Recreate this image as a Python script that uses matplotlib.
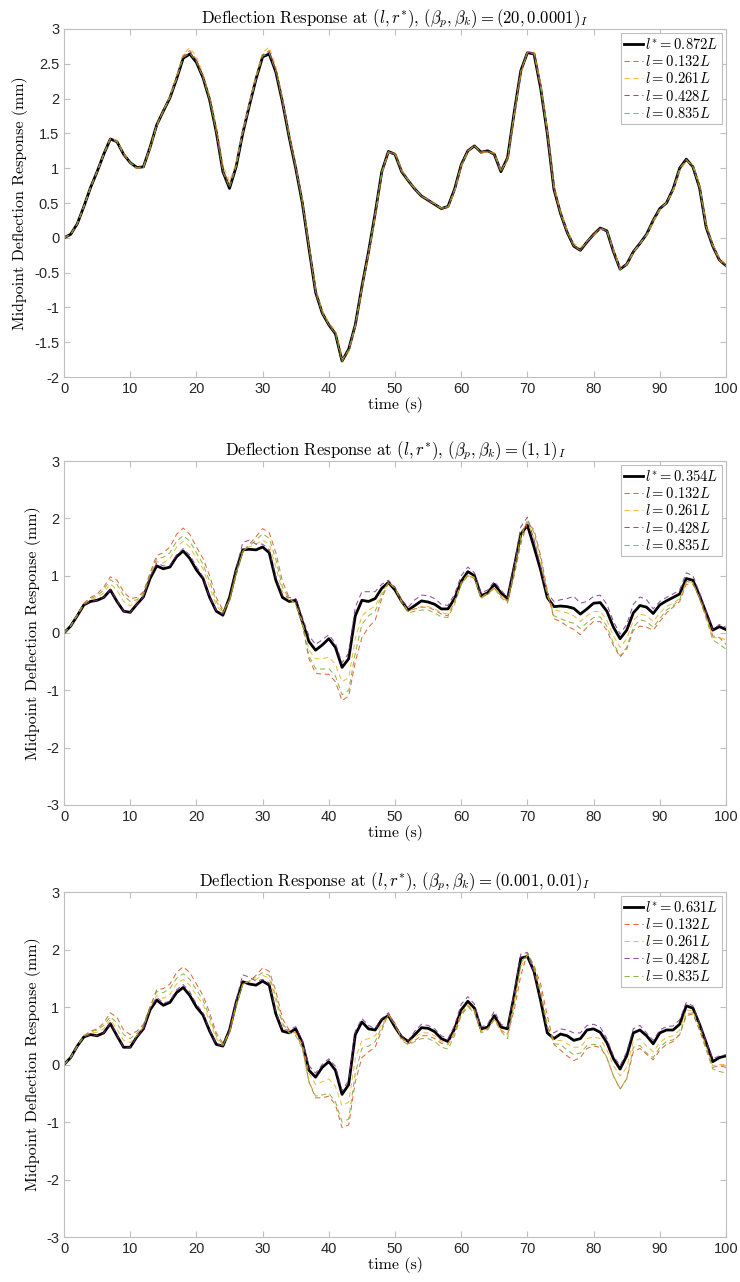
import numpy as np
import matplotlib
matplotlib.use("Agg")
import matplotlib.pyplot as plt

plt.rcParams["mathtext.fontset"] = "cm"
plt.rcParams["axes.unicode_minus"] = False

t = np.arange(0, 101)  # time (s), 1 s steps

# optimal sensor location per case, and the fixed comparison locations
l_star = [0.872, 0.354, 0.631]
l_cmp = [0.132, 0.261, 0.428, 0.835]
betas = ["(20, 0.0001)", "(1, 1)", "(0.001, 0.01)"]

# case 1: (beta_p, beta_k) = (20, 0.0001)
p1_star = [0, 0.05, 0.2, 0.45, 0.72, 0.95, 1.2, 1.42, 1.38, 1.2,
           1.08, 1.01, 1.02, 1.3, 1.62, 1.82, 2.01, 2.28, 2.58, 2.64,
           2.52, 2.3, 1.98, 1.52, 0.95, 0.71, 1.02, 1.5, 1.9, 2.28,
           2.6, 2.64, 2.38, 1.95, 1.45, 1.0, 0.5, -0.15, -0.78, -1.08,
           -1.25, -1.38, -1.77, -1.6, -1.25, -0.7, -0.2, 0.35, 0.95, 1.24,
           1.2, 0.95, 0.82, 0.7, 0.6, 0.54, 0.48, 0.42, 0.45, 0.7,
           1.05, 1.25, 1.32, 1.23, 1.25, 1.2, 0.95, 1.15, 1.8, 2.4,
           2.66, 2.64, 2.15, 1.5, 0.7, 0.35, 0.08, -0.12, -0.18, -0.06,
           0.05, 0.14, 0.1, -0.2, -0.45, -0.38, -0.2, -0.08, 0.05, 0.25,
           0.42, 0.5, 0.7, 1.0, 1.13, 1.02, 0.72, 0.15, -0.12, -0.32,
           -0.4]
p1_l132 = [0, 0.05, 0.2, 0.45, 0.72, 0.95, 1.2, 1.42, 1.38, 1.2,
           1.08, 1.0, 1.02, 1.3, 1.62, 1.82, 2.02, 2.3, 2.62, 2.69,
           2.56, 2.32, 2.0, 1.55, 0.98, 0.76, 1.04, 1.52, 1.92, 2.3,
           2.63, 2.69, 2.42, 1.98, 1.48, 1.02, 0.52, -0.13, -0.76, -1.07,
           -1.24, -1.36, -1.76, -1.62, -1.26, -0.72, -0.22, 0.33, 0.94, 1.24,
           1.21, 0.96, 0.82, 0.7, 0.6, 0.54, 0.48, 0.42, 0.44, 0.68,
           1.04, 1.25, 1.32, 1.22, 1.24, 1.2, 0.96, 1.12, 1.78, 2.38,
           2.67, 2.66, 2.19, 1.52, 0.72, 0.35, 0.08, -0.11, -0.17, -0.05,
           0.05, 0.13, 0.1, -0.19, -0.44, -0.38, -0.2, -0.08, 0.04, 0.24,
           0.41, 0.5, 0.68, 0.98, 1.12, 1.03, 0.74, 0.17, -0.11, -0.31,
           -0.4]
p1_l261 = [0, 0.05, 0.2, 0.45, 0.72, 0.95, 1.2, 1.43, 1.4, 1.22,
           1.08, 1.0, 1.01, 1.28, 1.6, 1.83, 2.03, 2.32, 2.64, 2.73,
           2.6, 2.35, 2.03, 1.6, 1.05, 0.8, 1.08, 1.55, 1.95, 2.33,
           2.66, 2.74, 2.46, 2.0, 1.5, 1.04, 0.55, -0.1, -0.72, -1.04,
           -1.22, -1.33, -1.74, -1.64, -1.28, -0.74, -0.24, 0.3, 0.92, 1.22,
           1.22, 0.98, 0.83, 0.71, 0.6, 0.55, 0.49, 0.43, 0.43, 0.66,
           1.02, 1.24, 1.33, 1.22, 1.23, 1.22, 0.98, 1.1, 1.75, 2.35,
           2.67, 2.67, 2.22, 1.56, 0.76, 0.38, 0.12, -0.08, -0.14, -0.05,
           0.04, 0.12, 0.11, -0.17, -0.42, -0.39, -0.22, -0.08, 0.03, 0.22,
           0.4, 0.51, 0.66, 0.96, 1.1, 1.05, 0.77, 0.2, -0.08, -0.3,
           -0.38]
p1_l428 = [0, 0.05, 0.2, 0.45, 0.72, 0.95, 1.2, 1.42, 1.38, 1.2,
           1.08, 1.01, 1.02, 1.3, 1.62, 1.82, 2.01, 2.29, 2.6, 2.67,
           2.54, 2.31, 1.99, 1.53, 0.96, 0.73, 1.03, 1.51, 1.91, 2.29,
           2.62, 2.67, 2.4, 1.96, 1.46, 1.01, 0.51, -0.14, -0.77, -1.08,
           -1.25, -1.37, -1.77, -1.61, -1.25, -0.71, -0.21, 0.34, 0.95, 1.24,
           1.2, 0.95, 0.82, 0.7, 0.6, 0.54, 0.48, 0.42, 0.45, 0.69,
           1.05, 1.25, 1.32, 1.23, 1.25, 1.2, 0.95, 1.14, 1.79, 2.39,
           2.67, 2.65, 2.17, 1.51, 0.71, 0.35, 0.08, -0.12, -0.18, -0.06,
           0.05, 0.14, 0.1, -0.2, -0.45, -0.38, -0.2, -0.08, 0.05, 0.25,
           0.42, 0.5, 0.7, 1.0, 1.13, 1.02, 0.72, 0.15, -0.12, -0.32,
           -0.4]
p1_l835 = [0, 0.05, 0.2, 0.45, 0.72, 0.95, 1.2, 1.42, 1.38, 1.2,
           1.08, 1.01, 1.02, 1.3, 1.62, 1.82, 2.01, 2.28, 2.59, 2.65,
           2.53, 2.3, 1.98, 1.52, 0.95, 0.72, 1.02, 1.5, 1.9, 2.28,
           2.61, 2.65, 2.39, 1.95, 1.45, 1.0, 0.5, -0.15, -0.78, -1.08,
           -1.25, -1.38, -1.78, -1.6, -1.25, -0.7, -0.2, 0.35, 0.95, 1.24,
           1.2, 0.95, 0.82, 0.7, 0.6, 0.54, 0.48, 0.42, 0.45, 0.7,
           1.05, 1.25, 1.32, 1.23, 1.25, 1.2, 0.95, 1.15, 1.8, 2.4,
           2.66, 2.64, 2.15, 1.5, 0.7, 0.35, 0.08, -0.12, -0.18, -0.06,
           0.05, 0.14, 0.1, -0.2, -0.46, -0.38, -0.2, -0.08, 0.05, 0.25,
           0.42, 0.5, 0.7, 1.0, 1.12, 1.02, 0.72, 0.15, -0.12, -0.33,
           -0.41]

# case 2: (beta_p, beta_k) = (1, 1)
p2_star = [0, 0.12, 0.3, 0.49, 0.55, 0.57, 0.62, 0.75, 0.55, 0.38,
           0.36, 0.5, 0.63, 0.95, 1.17, 1.12, 1.15, 1.33, 1.43, 1.3,
           1.1, 0.95, 0.62, 0.38, 0.31, 0.62, 1.1, 1.45, 1.46, 1.45,
           1.5, 1.4, 0.92, 0.62, 0.55, 0.57, 0.2, -0.15, -0.3, -0.21,
           -0.1, -0.25, -0.6, -0.45, 0.3, 0.57, 0.55, 0.6, 0.78, 0.88,
           0.75, 0.55, 0.4, 0.48, 0.56, 0.54, 0.5, 0.42, 0.42, 0.6,
           0.9, 1.07, 1.0, 0.65, 0.7, 0.85, 0.7, 0.6, 1.15, 1.72,
           1.88, 1.5, 1.1, 0.62, 0.46, 0.47, 0.46, 0.43, 0.33, 0.42,
           0.52, 0.53, 0.38, 0.1, -0.1, 0.05, 0.35, 0.48, 0.45, 0.34,
           0.49, 0.56, 0.62, 0.68, 0.95, 0.92, 0.65, 0.35, 0.05, 0.11,
           0.06]
p2_l132 = [0, 0.12, 0.32, 0.52, 0.62, 0.68, 0.8, 0.98, 0.92, 0.72,
           0.6, 0.62, 0.72, 1.05, 1.35, 1.4, 1.5, 1.72, 1.83, 1.72,
           1.5, 1.3, 1.0, 0.62, 0.4, 0.55, 1.0, 1.42, 1.55, 1.68,
           1.82, 1.75, 1.4, 0.9, 0.62, 0.5, 0.15, -0.45, -0.7, -0.72,
           -0.72, -0.85, -1.18, -1.1, -0.5, -0.08, 0.1, 0.22, 0.6, 0.88,
           0.8, 0.55, 0.38, 0.42, 0.45, 0.45, 0.4, 0.33, 0.3, 0.55,
           0.85, 1.0, 0.95, 0.62, 0.68, 0.78, 0.65, 0.55, 1.0, 1.55,
           1.92, 1.8, 1.35, 0.75, 0.25, 0.2, 0.12, 0.06, -0.03, 0.1,
           0.2, 0.2, 0.05, -0.22, -0.42, -0.28, 0.05, 0.12, 0.1, 0.05,
           0.2, 0.35, 0.45, 0.55, 0.85, 0.85, 0.62, 0.3, -0.05, -0.08,
           -0.2]
p2_l261 = [0, 0.12, 0.31, 0.5, 0.58, 0.62, 0.7, 0.86, 0.75, 0.55,
           0.47, 0.55, 0.66, 1.0, 1.25, 1.22, 1.3, 1.5, 1.6, 1.5,
           1.3, 1.12, 0.8, 0.48, 0.34, 0.58, 1.05, 1.43, 1.5, 1.55,
           1.62, 1.55, 1.15, 0.72, 0.58, 0.52, 0.2, -0.3, -0.45, -0.45,
           -0.42, -0.55, -0.85, -0.78, -0.1, 0.3, 0.4, 0.47, 0.7, 0.88,
           0.78, 0.55, 0.38, 0.43, 0.46, 0.46, 0.42, 0.35, 0.33, 0.55,
           0.88, 1.02, 0.97, 0.62, 0.7, 0.8, 0.66, 0.55, 1.1, 1.7,
           1.95, 1.65, 1.2, 0.65, 0.4, 0.38, 0.35, 0.3, 0.2, 0.3,
           0.37, 0.38, 0.22, -0.05, -0.25, -0.1, 0.22, 0.33, 0.3, 0.2,
           0.35, 0.46, 0.52, 0.6, 0.9, 0.88, 0.62, 0.3, -0.08, -0.08,
           -0.12]
p2_l428 = [0, 0.12, 0.3, 0.49, 0.55, 0.57, 0.62, 0.76, 0.56, 0.38,
           0.36, 0.5, 0.63, 0.98, 1.22, 1.17, 1.18, 1.36, 1.47, 1.36,
           1.16, 0.98, 0.62, 0.4, 0.33, 0.6, 1.12, 1.58, 1.62, 1.55,
           1.55, 1.45, 0.98, 0.65, 0.62, 0.6, 0.28, -0.05, -0.2, -0.12,
           -0.03, -0.18, -0.52, -0.35, 0.45, 0.72, 0.72, 0.72, 0.85, 0.92,
           0.8, 0.58, 0.45, 0.58, 0.66, 0.65, 0.6, 0.5, 0.48, 0.68,
           1.0, 1.15, 1.05, 0.7, 0.75, 0.9, 0.75, 0.62, 1.2, 1.85,
           2.02, 1.62, 1.15, 0.7, 0.55, 0.58, 0.6, 0.64, 0.52, 0.55,
           0.64, 0.66, 0.5, 0.2, -0.02, 0.15, 0.5, 0.63, 0.58, 0.42,
           0.55, 0.62, 0.68, 0.75, 1.05, 1.0, 0.7, 0.38, 0.05, 0.15,
           0.1]
p2_l835 = [0, 0.12, 0.31, 0.51, 0.6, 0.65, 0.75, 0.93, 0.85, 0.65,
           0.55, 0.58, 0.7, 1.02, 1.3, 1.32, 1.4, 1.6, 1.7, 1.6,
           1.4, 1.2, 0.9, 0.55, 0.37, 0.56, 1.02, 1.42, 1.52, 1.62,
           1.73, 1.65, 1.28, 0.8, 0.6, 0.5, 0.15, -0.4, -0.62, -0.63,
           -0.62, -0.75, -1.08, -1.0, -0.35, 0.15, 0.3, 0.38, 0.65, 0.88,
           0.78, 0.52, 0.35, 0.38, 0.4, 0.4, 0.35, 0.28, 0.27, 0.5,
           0.85, 1.0, 0.95, 0.6, 0.68, 0.78, 0.62, 0.52, 1.05, 1.65,
           1.98, 1.75, 1.3, 0.7, 0.3, 0.25, 0.2, 0.17, 0.08, 0.18,
           0.27, 0.28, 0.12, -0.18, -0.4, -0.25, 0.1, 0.23, 0.2, 0.1,
           0.25, 0.4, 0.48, 0.58, 0.9, 0.88, 0.6, 0.25, -0.12, -0.2,
           -0.28]

# case 3: (beta_p, beta_k) = (0.001, 0.01)
p3_star = [0, 0.12, 0.32, 0.48, 0.52, 0.5, 0.55, 0.71, 0.5, 0.3,
           0.3, 0.48, 0.62, 0.95, 1.12, 1.03, 1.08, 1.25, 1.34, 1.2,
           1.0, 0.86, 0.58, 0.35, 0.32, 0.6, 1.08, 1.44, 1.4, 1.38,
           1.45, 1.38, 0.88, 0.58, 0.55, 0.62, 0.38, -0.1, -0.22, -0.05,
           0.05, -0.1, -0.52, -0.35, 0.52, 0.74, 0.62, 0.6, 0.78, 0.85,
           0.65, 0.48, 0.4, 0.52, 0.64, 0.63, 0.57, 0.45, 0.4, 0.62,
           0.95, 1.1, 0.98, 0.62, 0.65, 0.85, 0.65, 0.62, 1.2, 1.85,
           1.88, 1.62, 1.11, 0.55, 0.45, 0.53, 0.5, 0.42, 0.45, 0.6,
           0.62, 0.56, 0.38, 0.1, -0.08, 0.15, 0.55, 0.6, 0.5, 0.36,
           0.55, 0.6, 0.6, 0.7, 1.02, 0.98, 0.7, 0.38, 0.05, 0.12,
           0.15]
p3_l132 = [0, 0.12, 0.33, 0.5, 0.58, 0.62, 0.72, 0.9, 0.82, 0.6,
           0.52, 0.58, 0.7, 1.0, 1.3, 1.32, 1.4, 1.6, 1.7, 1.6,
           1.4, 1.2, 0.9, 0.55, 0.37, 0.55, 1.0, 1.4, 1.45, 1.55,
           1.68, 1.62, 1.28, 0.8, 0.6, 0.55, 0.3, -0.3, -0.58, -0.58,
           -0.55, -0.7, -1.1, -1.05, -0.3, 0.12, 0.22, 0.3, 0.6, 0.88,
           0.72, 0.45, 0.36, 0.42, 0.5, 0.5, 0.45, 0.37, 0.35, 0.55,
           0.88, 1.02, 0.92, 0.58, 0.62, 0.8, 0.6, 0.52, 0.95, 1.55,
           1.93, 1.72, 1.4, 0.85, 0.35, 0.25, 0.15, 0.07, 0.12, 0.28,
           0.32, 0.3, 0.12, -0.2, -0.43, -0.25, 0.22, 0.28, 0.18, 0.08,
           0.25, 0.35, 0.4, 0.52, 0.85, 0.88, 0.6, 0.3, -0.05, -0.02,
           -0.05]
p3_l261 = [0, 0.12, 0.32, 0.49, 0.55, 0.56, 0.62, 0.78, 0.62, 0.42,
           0.38, 0.5, 0.65, 0.98, 1.2, 1.15, 1.22, 1.4, 1.48, 1.38,
           1.2, 1.05, 0.75, 0.45, 0.33, 0.58, 1.05, 1.4, 1.45, 1.48,
           1.55, 1.5, 1.1, 0.68, 0.56, 0.55, 0.35, -0.15, -0.35, -0.3,
           -0.25, -0.38, -0.72, -0.65, 0.1, 0.42, 0.45, 0.5, 0.7, 0.86,
           0.7, 0.46, 0.38, 0.48, 0.55, 0.55, 0.5, 0.4, 0.36, 0.58,
           0.9, 1.04, 0.95, 0.58, 0.62, 0.8, 0.6, 0.52, 1.1, 1.7,
           1.9, 1.65, 1.25, 0.65, 0.42, 0.42, 0.36, 0.3, 0.3, 0.45,
           0.48, 0.45, 0.25, -0.02, -0.2, -0.05, 0.4, 0.45, 0.32, 0.22,
           0.38, 0.47, 0.5, 0.6, 0.95, 0.93, 0.65, 0.32, -0.02, 0.0,
           0.0]
p3_l428 = [0, 0.12, 0.32, 0.48, 0.52, 0.5, 0.55, 0.72, 0.52, 0.3,
           0.3, 0.48, 0.62, 0.98, 1.17, 1.07, 1.1, 1.3, 1.39, 1.26,
           1.05, 0.9, 0.6, 0.36, 0.32, 0.6, 1.12, 1.56, 1.52, 1.45,
           1.48, 1.42, 0.92, 0.6, 0.6, 0.66, 0.42, -0.02, -0.15, 0.0,
           0.1, -0.03, -0.45, -0.28, 0.58, 0.8, 0.68, 0.62, 0.8, 0.9,
           0.7, 0.5, 0.42, 0.58, 0.7, 0.68, 0.62, 0.5, 0.45, 0.68,
           1.05, 1.18, 1.05, 0.65, 0.7, 0.93, 0.7, 0.65, 1.25, 1.92,
           1.95, 1.6, 1.15, 0.62, 0.55, 0.62, 0.6, 0.55, 0.55, 0.68,
           0.7, 0.65, 0.45, 0.15, -0.02, 0.22, 0.62, 0.68, 0.55, 0.42,
           0.6, 0.66, 0.67, 0.78, 1.08, 1.02, 0.72, 0.4, 0.1, 0.15,
           0.17]
p3_l835 = [0, 0.12, 0.32, 0.5, 0.57, 0.6, 0.68, 0.83, 0.72, 0.52,
           0.45, 0.54, 0.68, 1.0, 1.27, 1.25, 1.32, 1.5, 1.58, 1.48,
           1.3, 1.12, 0.82, 0.5, 0.34, 0.55, 1.0, 1.4, 1.45, 1.52,
           1.6, 1.55, 1.18, 0.72, 0.55, 0.5, 0.28, -0.3, -0.55, -0.53,
           -0.5, -0.65, -1.0, -0.95, -0.15, 0.28, 0.32, 0.4, 0.65, 0.86,
           0.68, 0.42, 0.34, 0.4, 0.45, 0.45, 0.4, 0.3, 0.27, 0.5,
           0.85, 1.0, 0.9, 0.55, 0.6, 0.78, 0.58, 0.45, 1.05, 1.75,
           1.95, 1.7, 1.3, 0.68, 0.36, 0.35, 0.25, 0.17, 0.2, 0.33,
           0.35, 0.33, 0.12, -0.2, -0.42, -0.25, 0.3, 0.33, 0.2, 0.12,
           0.3, 0.4, 0.43, 0.52, 0.88, 0.9, 0.6, 0.25, -0.08, -0.12,
           -0.15]

cases = [
    (p1_star, [p1_l132, p1_l261, p1_l428, p1_l835], (-2, 3), np.arange(-2, 3.01, 0.5)),
    (p2_star, [p2_l132, p2_l261, p2_l428, p2_l835], (-3, 3), np.arange(-3, 4, 1)),
    (p3_star, [p3_l132, p3_l261, p3_l428, p3_l835], (-3, 3), np.arange(-3, 4, 1)),
]

dash_colors = ["#D95319", "#EDB120", "#7E2F8E", "#77AC30"]
axes_rects = [
    [0.0865, 0.7059, 0.8946, 0.2715],
    [0.0865, 0.3721, 0.8946, 0.2683],
    [0.0865, 0.0351, 0.8946, 0.2691],
]
spine_gray = "#bfbfbf"

fig = plt.figure(figsize=(7.4, 12.82), dpi=100)

for k, (star, others, ylim, yticks) in enumerate(cases):
    ax = fig.add_axes(axes_rects[k])
    ax.plot(t, star, color="black", lw=2.0, label=rf"$l^{{*}} = {l_star[k]}L$")
    for vals, col, lv in zip(others, dash_colors, l_cmp):
        ax.plot(t, vals, color=col, lw=0.75, alpha=0.85, dashes=(5, 3.5),
                label=rf"$l = {lv}L$")

    ax.set_xlim(0, 100)
    ax.set_ylim(*ylim)
    ax.set_xticks(np.arange(0, 101, 10))
    ax.set_yticks(yticks)
    ax.set_yticklabels([f"{v:g}" for v in yticks])
    ax.tick_params(direction="in", top=True, right=True, length=4,
                   color=spine_gray, labelcolor="#262626", labelsize=10.5)
    for lab in ax.get_xticklabels() + ax.get_yticklabels():
        lab.set_fontfamily("Liberation Sans")
    for sp in ax.spines.values():
        sp.set_color(spine_gray)
        sp.set_linewidth(0.8)

    ax.set_title(r"Deflection Response at $(l, r^{*})$, $(\beta_p, \beta_k) = "
                 + betas[k] + r"_I$",
                 fontfamily="cmr10", fontsize=12, pad=4)
    ax.set_xlabel("time (s)", fontfamily="cmr10", fontsize=11.5, labelpad=1)
    ax.set_ylabel("Midpoint Deflection Response (mm)", fontfamily="cmr10",
                  fontsize=11.5, labelpad=4)

    leg = ax.legend(loc="upper right", fontsize=10.5, handlelength=1.3,
                    handletextpad=0.1, labelspacing=0.15, borderpad=0.25,
                    borderaxespad=0.3, fancybox=False, framealpha=1)
    leg.get_frame().set_edgecolor(spine_gray)
    leg.get_frame().set_linewidth(0.8)

fig.savefig("out.png", dpi=100)
